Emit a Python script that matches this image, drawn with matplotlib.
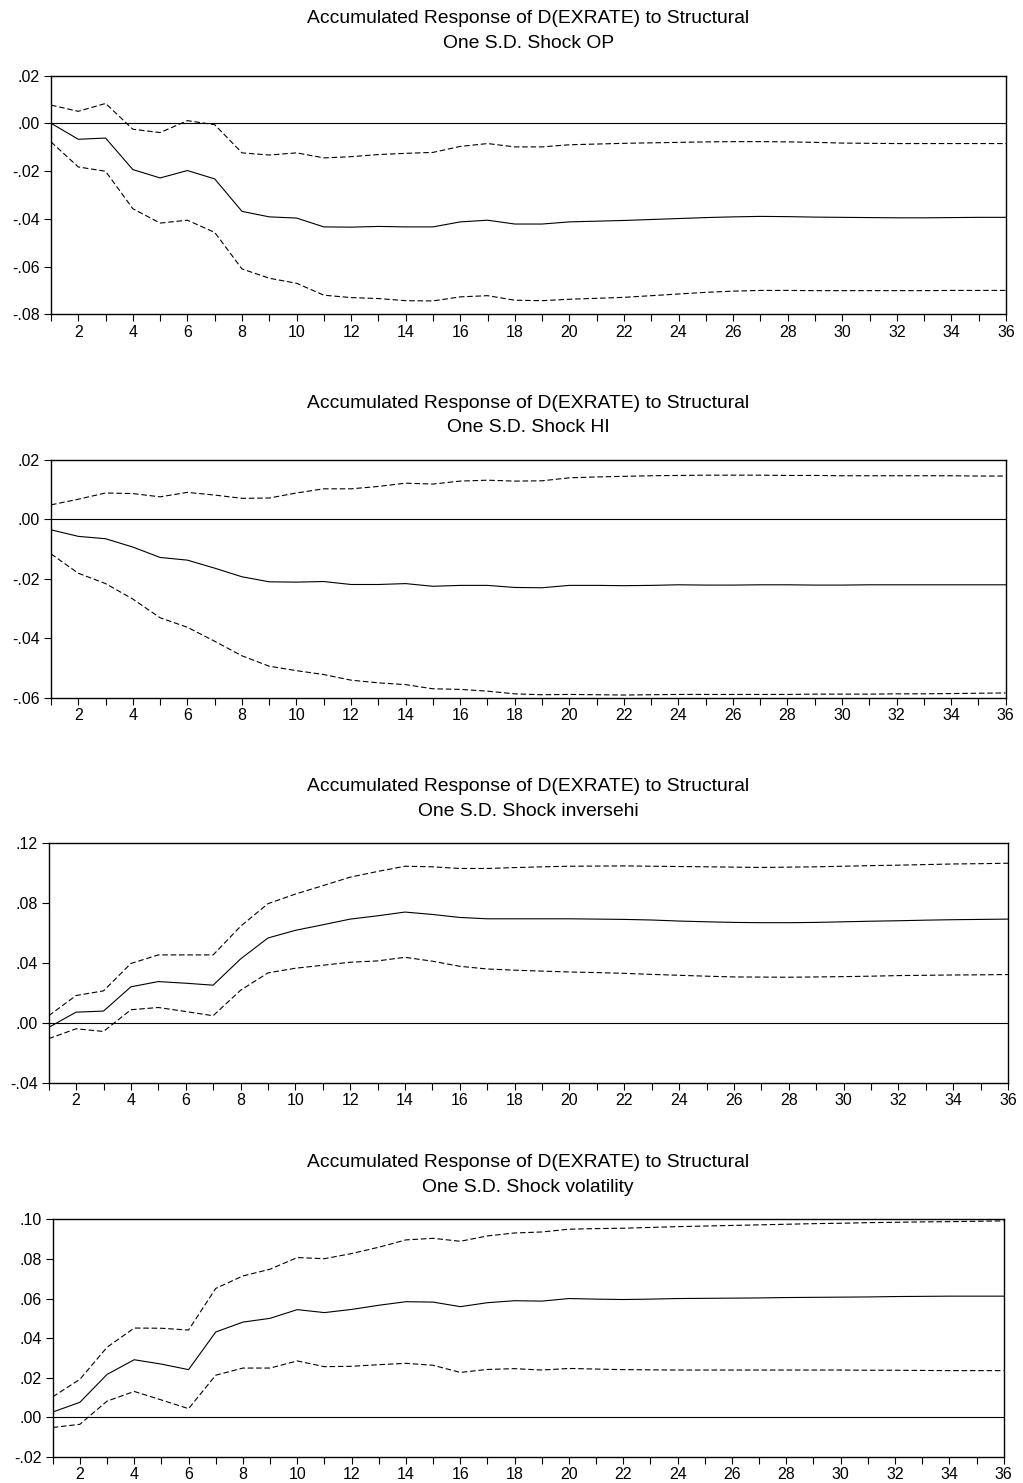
import matplotlib
matplotlib.use("Agg")
import matplotlib.pyplot as plt
from matplotlib.ticker import FixedLocator, FuncFormatter

plt.rcParams['font.family'] = ['Liberation Sans', 'DejaVu Sans']

periods = list(range(1, 37))
xtick_labels = list(range(2, 37, 2))

titles = [
    "Accumulated Response of D(EXRATE) to Structural\nOne S.D. Shock OP",
    "Accumulated Response of D(EXRATE) to Structural\nOne S.D. Shock HI",
    "Accumulated Response of D(EXRATE) to Structural\nOne S.D. Shock inversehi",
    "Accumulated Response of D(EXRATE) to Structural\nOne S.D. Shock volatility",
]

op_resp = [0.0, -0.0067, -0.0062, -0.0194, -0.0229, -0.0198, -0.0233, -0.0369, -0.0392, -0.0397,
           -0.0434, -0.0435, -0.0432, -0.0434, -0.0434, -0.0413, -0.0406, -0.0422, -0.0422, -0.0413,
           -0.0410, -0.0407, -0.0403, -0.0399, -0.0395, -0.0392, -0.0390, -0.0391, -0.0393, -0.0394,
           -0.0395, -0.0396, -0.0396, -0.0395, -0.0394, -0.0394]
op_upper = [0.0076, 0.0050, 0.0083, -0.0025, -0.0039, 0.0011, -0.0006, -0.0124, -0.0133, -0.0124,
            -0.0145, -0.0140, -0.0131, -0.0126, -0.0122, -0.0097, -0.0085, -0.0099, -0.0099, -0.0090,
            -0.0087, -0.0084, -0.0082, -0.0080, -0.0078, -0.0077, -0.0077, -0.0078, -0.0080, -0.0083,
            -0.0084, -0.0085, -0.0085, -0.0085, -0.0085, -0.0085]
op_lower = [-0.0078, -0.0183, -0.0201, -0.0358, -0.0418, -0.0406, -0.0457, -0.0610, -0.0649, -0.0670,
            -0.0720, -0.0730, -0.0734, -0.0743, -0.0744, -0.0727, -0.0722, -0.0741, -0.0743, -0.0737,
            -0.0733, -0.0729, -0.0722, -0.0715, -0.0708, -0.0703, -0.0700, -0.0700, -0.0701, -0.0701,
            -0.0701, -0.0701, -0.0701, -0.0700, -0.0700, -0.0700]

hi_resp = [-0.0035, -0.0057, -0.0065, -0.0093, -0.0128, -0.0137, -0.0164, -0.0193, -0.0210, -0.0211,
           -0.0209, -0.0219, -0.0219, -0.0216, -0.0225, -0.0222, -0.0222, -0.0229, -0.0230, -0.0222,
           -0.0222, -0.0223, -0.0222, -0.0220, -0.0221, -0.0221, -0.0220, -0.0220, -0.0221, -0.0221,
           -0.0220, -0.0220, -0.0220, -0.0220, -0.0220, -0.0220]
hi_upper = [0.0049, 0.0068, 0.0089, 0.0087, 0.0076, 0.0091, 0.0082, 0.0071, 0.0072, 0.0089,
            0.0103, 0.0103, 0.0111, 0.0122, 0.0119, 0.0129, 0.0132, 0.0129, 0.0130, 0.0140,
            0.0143, 0.0145, 0.0147, 0.0148, 0.0149, 0.0149, 0.0149, 0.0148, 0.0148, 0.0147,
            0.0147, 0.0147, 0.0147, 0.0147, 0.0146, 0.0146]
hi_lower = [-0.0116, -0.0181, -0.0216, -0.0268, -0.0331, -0.0363, -0.0410, -0.0459, -0.0494, -0.0509,
            -0.0522, -0.0541, -0.0550, -0.0556, -0.0570, -0.0572, -0.0578, -0.0587, -0.0590, -0.0589,
            -0.0590, -0.0591, -0.0590, -0.0589, -0.0589, -0.0589, -0.0589, -0.0589, -0.0588, -0.0588,
            -0.0588, -0.0587, -0.0587, -0.0586, -0.0585, -0.0584]

inv_resp = [-0.0031, 0.0071, 0.0078, 0.0240, 0.0275, 0.0264, 0.0251, 0.0426, 0.0566, 0.0617,
            0.0654, 0.0692, 0.0714, 0.0739, 0.0723, 0.0703, 0.0694, 0.0694, 0.0694, 0.0694,
            0.0692, 0.0690, 0.0686, 0.0679, 0.0674, 0.0670, 0.0668, 0.0668, 0.0670, 0.0674,
            0.0678, 0.0681, 0.0685, 0.0688, 0.0690, 0.0692]
inv_upper = [0.0047, 0.0182, 0.0213, 0.0396, 0.0453, 0.0453, 0.0453, 0.0644, 0.0795, 0.0859,
             0.0915, 0.0972, 0.1010, 0.1045, 0.1041, 0.1030, 0.1030, 0.1036, 0.1041, 0.1045,
             0.1046, 0.1047, 0.1045, 0.1043, 0.1041, 0.1039, 0.1037, 0.1039, 0.1041, 0.1045,
             0.1049, 0.1052, 0.1056, 0.1060, 0.1062, 0.1065]
inv_lower = [-0.0106, -0.0040, -0.0058, 0.0087, 0.0102, 0.0075, 0.0047, 0.0217, 0.0333, 0.0364,
             0.0384, 0.0404, 0.0413, 0.0437, 0.0411, 0.0377, 0.0359, 0.0351, 0.0345, 0.0339,
             0.0335, 0.0330, 0.0323, 0.0317, 0.0311, 0.0306, 0.0305, 0.0304, 0.0306, 0.0308,
             0.0311, 0.0315, 0.0317, 0.0319, 0.0320, 0.0322]

vol_resp = [0.0027, 0.0076, 0.0217, 0.0291, 0.0269, 0.0241, 0.0431, 0.0481, 0.0500, 0.0544,
            0.0529, 0.0545, 0.0566, 0.0584, 0.0582, 0.0559, 0.0579, 0.0589, 0.0587, 0.0600,
            0.0597, 0.0595, 0.0597, 0.0600, 0.0601, 0.0602, 0.0603, 0.0605, 0.0606, 0.0607,
            0.0608, 0.0610, 0.0611, 0.0612, 0.0612, 0.0612]
vol_upper = [0.0104, 0.0192, 0.0354, 0.0451, 0.0450, 0.0441, 0.0651, 0.0714, 0.0748, 0.0807,
             0.0801, 0.0827, 0.0859, 0.0896, 0.0904, 0.0889, 0.0916, 0.0931, 0.0936, 0.0950,
             0.0953, 0.0955, 0.0959, 0.0963, 0.0966, 0.0969, 0.0972, 0.0975, 0.0978, 0.0980,
             0.0983, 0.0985, 0.0987, 0.0988, 0.0990, 0.0992]
vol_lower = [-0.0051, -0.0035, 0.0082, 0.0131, 0.0088, 0.0044, 0.0213, 0.0249, 0.0249, 0.0285,
             0.0256, 0.0258, 0.0266, 0.0273, 0.0263, 0.0227, 0.0242, 0.0246, 0.0239, 0.0247,
             0.0244, 0.0241, 0.0240, 0.0239, 0.0239, 0.0239, 0.0239, 0.0239, 0.0239, 0.0239,
             0.0238, 0.0238, 0.0237, 0.0236, 0.0236, 0.0236]

yticks_1 = [-0.08, -0.06, -0.04, -0.02, 0.00, 0.02]
yticks_2 = [-0.06, -0.04, -0.02, 0.00, 0.02]
yticks_3 = [-0.04, 0.00, 0.04, 0.08, 0.12]
yticks_4 = [-0.02, 0.00, 0.02, 0.04, 0.06, 0.08, 0.10]

panels = [
    (op_resp, op_upper, op_lower, yticks_1),
    (hi_resp, hi_upper, hi_lower, yticks_2),
    (inv_resp, inv_upper, inv_lower, yticks_3),
    (vol_resp, vol_upper, vol_lower, yticks_4),
]

# axes boxes in pixels: left, right, top, bottom
boxes = [
    (51, 1006, 75.5, 314.3),
    (51, 1005.7, 460, 697.7),
    (48.7, 1008, 843, 1082.7),
    (52.7, 1003.7, 1219.3, 1457),
]

W, H = 1023, 1483
fig = plt.figure(figsize=(W / 100, H / 100), dpi=100)


def fmt(v, pos):
    s = f"{v:.2f}"
    s = s.replace("0.", ".", 1)
    if s == "-.00":
        s = ".00"
    return s


for (resp, up, lo, yt), (l, r, t, b), title in zip(panels, boxes, titles):
    ax = fig.add_axes([l / W, 1 - b / H, (r - l) / W, (b - t) / H])
    ax.axhline(0, color='black', lw=0.8)
    ax.plot(periods, resp, color='black', lw=0.8)
    ax.plot(periods, up, color='black', lw=0.8, linestyle=(0, (5, 2.5)))
    ax.plot(periods, lo, color='black', lw=0.8, linestyle=(0, (5, 2.5)))
    ax.set_xlim(1, 36)
    ax.set_ylim(yt[0], yt[-1])
    ax.xaxis.set_major_locator(FixedLocator(xtick_labels))
    ax.xaxis.set_minor_locator(FixedLocator(periods))
    ax.set_xticklabels([str(v) for v in xtick_labels])
    ax.yaxis.set_major_locator(FixedLocator(yt))
    ax.yaxis.set_major_formatter(FuncFormatter(fmt))
    ax.tick_params(axis='x', which='both', direction='out', length=5, width=0.8, pad=2.5,
                   labelsize=11.5)
    ax.tick_params(axis='y', which='major', direction='out', length=5, width=0.8, pad=3,
                   labelsize=11.5)
    for sp in ax.spines.values():
        sp.set_linewidth(1.0)
        sp.set_color('black')
    cx = (l + r) / 2 / W
    lines = title.split("\n")
    fig.text(cx, 1 - (t - 57) / H, lines[0], ha='center', va='center', fontsize=13.9)
    fig.text(cx, 1 - (t - 32) / H, lines[1], ha='center', va='center', fontsize=13.9)

fig.savefig("out.png", dpi=100)
